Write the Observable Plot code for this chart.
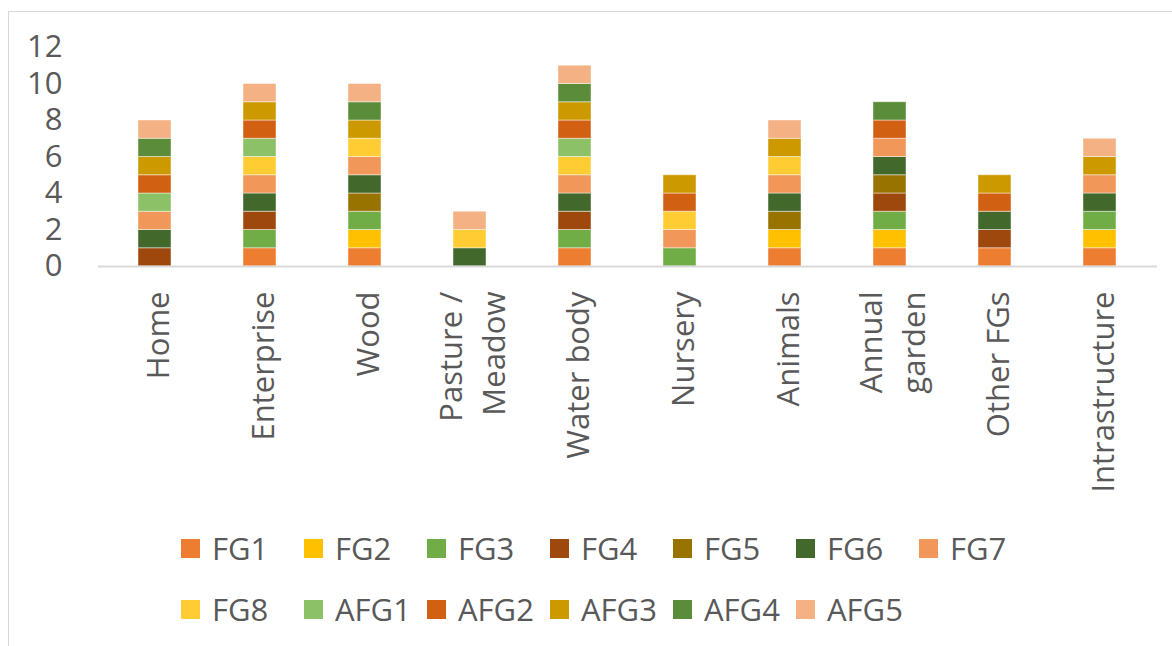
<!DOCTYPE html>
<html>
<head>
<meta charset="utf-8">
<script src="https://cdn.jsdelivr.net/npm/d3@7"></script>
<script src="https://cdn.jsdelivr.net/npm/@observablehq/plot@0.6"></script>
<style>
  html, body { margin: 0; padding: 0; background: #fff; overflow: hidden; }
  body { width: 1172px; height: 646px; position: relative; font-family: "Open Sans", sans-serif; }
  #frame { position: absolute; left: 8px; top: 11px; width: 1200px; height: 700px; border: 1.5px solid #d9d9d9; box-sizing: border-box; }
  #chart { position: absolute; left: 0; top: 0; }
  #legend { position: absolute; left: 181px; top: 527px; display: grid; grid-template-columns: repeat(7, 123px); row-gap: 19px; }
  .item { display: flex; align-items: center; height: 42px; font-size: 31px; color: #595959; white-space: nowrap; }
  .swatch { width: 19px; height: 19px; margin-right: 12px; flex: none; }
</style>
</head>
<body>
<div id="frame"></div>
<div id="chart"></div>
<div id="legend"></div>
<script>
// Places on the site (x categories)
const categories = ["Home", "Enterprise", "Wood", "Pasture /\nMeadow", "Water body",
  "Nursery", "Animals", "Annual\ngarden", "Other FGs", "Intrastructure"];

// Functional groups, stacked bottom to top
const series = ["FG1", "FG2", "FG3", "FG4", "FG5", "FG6", "FG7", "FG8",
  "AFG1", "AFG2", "AFG3", "AFG4", "AFG5"];

const colors = ["#ED7D31", "#FFC000", "#70AD47", "#9E480E", "#997300", "#43682B", "#F1975A",
  "#FFCD33", "#8CC168", "#D26012", "#CC9A00", "#5B8C39", "#F4B183"];

// Counts per category, in the order of `categories`
const FG1  = [0, 1, 1, 0, 1, 0, 1, 1, 1, 1];
const FG2  = [0, 0, 1, 0, 0, 0, 1, 1, 0, 1];
const FG3  = [0, 1, 1, 0, 1, 1, 0, 1, 0, 1];
const FG4  = [1, 1, 0, 0, 1, 0, 0, 1, 1, 0];
const FG5  = [0, 0, 1, 0, 0, 0, 1, 1, 0, 0];
const FG6  = [1, 1, 1, 1, 1, 0, 1, 1, 1, 1];
const FG7  = [1, 1, 1, 0, 1, 1, 1, 1, 0, 1];
const FG8  = [0, 1, 1, 1, 1, 1, 1, 0, 0, 0];
const AFG1 = [1, 1, 0, 0, 1, 0, 0, 0, 0, 0];
const AFG2 = [1, 1, 0, 0, 1, 1, 0, 1, 1, 0];
const AFG3 = [1, 1, 1, 0, 1, 1, 1, 0, 1, 1];
const AFG4 = [1, 0, 1, 0, 1, 0, 0, 1, 0, 0];
const AFG5 = [1, 1, 1, 1, 1, 0, 1, 0, 0, 1];

const yTicks = [0, 2, 4, 6, 8, 10, 12];

const valuesBySeries = {FG1, FG2, FG3, FG4, FG5, FG6, FG7, FG8, AFG1, AFG2, AFG3, AFG4, AFG5};

// Long-format table: one row per non-empty segment
const rows = [];
series.forEach(s => {
  valuesBySeries[s].forEach((v, i) => {
    if (v > 0) rows.push({category: categories[i], series: s, value: v});
  });
});

const textColor = "#595959";

const chart = Plot.plot({
  width: 1172,
  height: 516,
  marginLeft: 98,
  marginRight: 15,
  marginTop: 47,
  marginBottom: 250,
  style: {fontFamily: "Open Sans, sans-serif", fontSize: "31px", color: textColor, background: "transparent"},
  x: {domain: categories, paddingInner: 0.685, paddingOuter: 0.3425, label: null},
  y: {domain: [0, 12], label: null},
  color: {domain: series, range: colors},
  marks: [
    Plot.axisY({ticks: yTicks, tickSize: 0, tickPadding: 36, fontSize: 31, fill: textColor, label: null}),
    Plot.axisX({tickSize: 0, tickPadding: 25, tickRotate: -90, fontSize: 31, fill: textColor, label: null, lineHeight: 1.38}),
    Plot.barY(rows, Plot.stackY({order: null}, {
      x: "category", y: "value", fill: "series",
      stroke: "#ffffff", strokeOpacity: 0.45, strokeWidth: 1
    })),
    Plot.ruleY([0], {stroke: "#d9d9d9", strokeWidth: 2})
  ]
});
document.getElementById("chart").appendChild(chart);

// Legend in two rows of seven columns
const legend = document.getElementById("legend");
series.forEach((s, i) => {
  const item = document.createElement("div");
  item.className = "item";
  const sw = document.createElement("span");
  sw.className = "swatch";
  sw.style.background = colors[i];
  item.appendChild(sw);
  item.appendChild(document.createTextNode(s));
  legend.appendChild(item);
});
</script>
</body>
</html>
